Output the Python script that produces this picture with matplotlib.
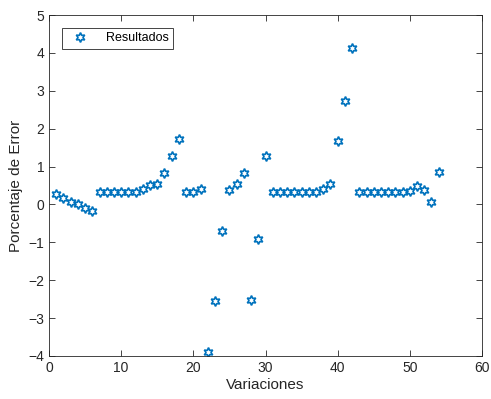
import numpy as np
import matplotlib
matplotlib.use('Agg')
import matplotlib.pyplot as plt

variaciones = np.arange(1, 55)
error = [0.27, 0.16, 0.07, 0.00, -0.09, -0.17,
         0.32, 0.32, 0.32, 0.32, 0.32, 0.32,
         0.40, 0.51, 0.54, 0.82, 1.29, 1.72,
         0.32, 0.32, 0.42, -3.90, -2.55, -0.69,
         0.38, 0.54, 0.82, -2.52, -0.90, 1.28,
         0.32, 0.32, 0.32, 0.32, 0.32, 0.32, 0.33,
         0.40, 0.54, 1.67, 2.73, 4.14,
         0.32, 0.32, 0.32, 0.32, 0.32, 0.32, 0.32,
         0.36, 0.49, 0.38, 0.07, 0.86]

plt.rcParams['font.family'] = ['Liberation Sans', 'DejaVu Sans']
axis_color = (0.15, 0.15, 0.15)
blue = (0, 0.447, 0.741)

fig = plt.figure(figsize=(4.91, 3.99), dpi=100)
ax = fig.add_axes([0.0998, 0.1078, 0.8819, 0.8546])

ax.plot(variaciones, error, linestyle='none', marker=(6, 1, 0), markersize=7,
        markerfacecolor='none', markeredgecolor=blue, markeredgewidth=1.2,
        label='Resultados')

ax.set_xlim(0, 60)
ax.set_ylim(-4, 5)
ax.set_xticks(np.arange(0, 61, 10))
ax.set_yticks(np.arange(-4, 6, 1))
ax.tick_params(direction='in', length=4, width=0.6, colors=axis_color,
               labelsize=10, top=True, right=True, labelcolor=axis_color)
for s in ax.spines.values():
    s.set_color(axis_color)
    s.set_linewidth(0.6)

ax.set_xlabel('Variaciones', fontsize=11, color=axis_color, labelpad=2)
ax.set_ylabel('Porcentaje de Error', fontsize=11, color=axis_color, labelpad=4)

leg = ax.legend(loc='upper left', fontsize=9, fancybox=False, framealpha=1,
                edgecolor=axis_color, borderpad=0.35, handlelength=2.3,
                handletextpad=0.9, bbox_to_anchor=(0.015, 0.98))
leg.get_frame().set_linewidth(0.6)

fig.savefig('out.png', dpi=100)
